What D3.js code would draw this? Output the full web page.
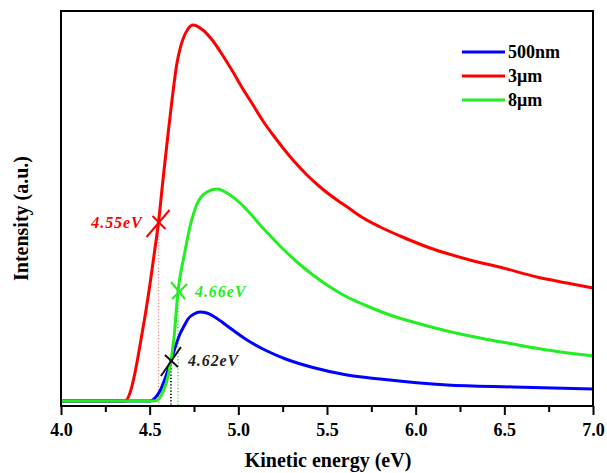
<!DOCTYPE html>
<html>
<head>
<meta charset="utf-8">
<script src="https://cdn.jsdelivr.net/npm/d3@7"></script>
<style>
  html, body { margin: 0; padding: 0; background: #fff; }
  svg text { font-family: "Liberation Serif", "Times New Roman", serif; font-weight: bold; }
</style>
</head>
<body>
<svg id="chart" width="607" height="473"></svg>
<script>
// Photoelectron spectra: kinetic energy (eV) vs. intensity (a.u.)
const energy500nm = [4.00, 4.502, 4.530, 4.558, 4.586, 4.62, 4.648, 4.671, 4.694, 4.716, 4.75, 4.784, 4.823, 4.857, 4.908, 4.953, 5.049, 5.162, 5.274, 5.421, 5.613, 5.80, 6.177, 6.549, 7.00];
const intensity500nm = [5, 5, 8, 15, 27, 45, 61, 72, 80, 87, 92, 94, 93, 90, 84, 78, 66, 55, 46.5, 38.5, 31, 27, 21, 19, 17];

const energy3um = [4.00, 4.361, 4.389, 4.417, 4.445, 4.474, 4.502, 4.524, 4.55, 4.575, 4.603, 4.626, 4.654, 4.671, 4.688, 4.716, 4.744, 4.80, 4.857, 4.914, 4.97, 5.026, 5.083, 5.139, 5.196, 5.252, 5.308, 5.387, 5.461, 5.556, 5.63, 5.686, 5.80, 5.912, 6.081, 6.306, 6.493, 6.684, 6.853, 7.00];
const intensity3um = [5, 5, 13, 33, 60, 90, 122, 150, 184, 226, 271, 306, 343, 357, 367, 377, 381, 376, 365, 350, 334, 317, 301, 285, 271, 258, 246, 231, 219, 206, 197, 190, 179, 170, 158, 146, 138, 129, 123, 118];

const energy8um = [4.00, 4.53, 4.575, 4.609, 4.637, 4.66, 4.694, 4.727, 4.767, 4.823, 4.88, 4.953, 5.01, 5.049, 5.139, 5.235, 5.331, 5.421, 5.517, 5.613, 5.726, 5.855, 5.985, 6.177, 6.363, 6.549, 6.741, 7.00];
const intensity8um = [5, 5, 14, 34, 68, 115, 150, 179, 202, 214, 217, 211, 203, 196, 178, 160, 144, 131, 119, 109, 100, 91, 84, 75, 68, 62, 56, 50];

const seriesNames = ["500nm", "3\u03bcm", "8\u03bcm"];
const seriesColors = ["#0000ff", "#ff0000", "#22ee22"];

// Onset (work function) markers
const onsetLabels = ["4.55eV", "4.66eV", "4.62eV"];
const onsetEnergy = [4.55, 4.66, 4.62];
const onsetIntensity = [184, 115, 45];
const onsetColors = ["#ff0000", "#22ee22", "#111111"];

const xTicks = [4.0, 4.5, 5.0, 5.5, 6.0, 6.5, 7.0];
const xMinorTicks = [4.25, 4.75, 5.25, 5.75, 6.25, 6.75];

const svg = d3.select("#chart");
const margin = { left: 61, right: 14, top: 11, bottom: 67 };
const W = 607, H = 473;

const x = d3.scaleLinear().domain([4.0, 7.0]).range([margin.left, W - margin.right]);
const y = d3.scaleLinear().domain([0, 395]).range([H - margin.bottom, margin.top]);

const line = d3.line()
  .x(d => x(d[0]))
  .y(d => y(d[1]))
  .curve(d3.curveMonotoneX);

const zip = (a, b) => a.map((v, i) => [v, b[i]]);

// dotted drop lines from each onset marker to the axis
const dropColors = ["#e88080", "#44cc44", "#111111"];
onsetEnergy.forEach((e, i) => {
  svg.append("line")
    .attr("x1", x(e)).attr("x2", x(e))
    .attr("y1", y(onsetIntensity[i]) + 4).attr("y2", y(0))
    .attr("stroke", dropColors[i])
    .attr("stroke-width", i === 2 ? 1.8 : 1.2)
    .attr("stroke-dasharray", "1.2,2");
});

// curves: red, blue, then green on top
const curves = [
  { e: energy3um, v: intensity3um, c: seriesColors[1] },
  { e: energy500nm, v: intensity500nm, c: seriesColors[0] },
  { e: energy8um, v: intensity8um, c: seriesColors[2] }
];
curves.forEach(s => {
  svg.append("path")
    .datum(zip(s.e, s.v))
    .attr("fill", "none")
    .attr("stroke", s.c)
    .attr("stroke-width", 3)
    .attr("stroke-linejoin", "round")
    .attr("d", line);
});

// cross markers at onsets
const crossShapes = [
  [[-12, 15, 11, -12], [-6, -6, 7, 7]],
  [[-7, -9, 7, 8], [-6, 8, 9, -7]],
  [[-10, 15, 10, -14], [-6, -6, 7, 6]]
];
onsetEnergy.forEach((e, i) => {
  const cx = x(e), cy = y(onsetIntensity[i]);
  crossShapes[i].forEach(s => {
    svg.append("line")
      .attr("x1", cx + s[0]).attr("y1", cy + s[1])
      .attr("x2", cx + s[2]).attr("y2", cy + s[3])
      .attr("stroke", onsetColors[i])
      .attr("stroke-width", 2);
  });
});

// onset labels
const labelPos = [
  { dx: -16, dy: 6, anchor: "end" },
  { dx: 17, dy: 6, anchor: "start" },
  { dx: 17, dy: 5, anchor: "start" }
];
onsetLabels.forEach((t, i) => {
  svg.append("text")
    .attr("x", x(onsetEnergy[i]) + labelPos[i].dx)
    .attr("y", y(onsetIntensity[i]) + labelPos[i].dy)
    .attr("text-anchor", labelPos[i].anchor)
    .attr("font-size", 16)
    .attr("font-style", "italic")
    .attr("letter-spacing", 0.9)
    .attr("fill", onsetColors[i] === "#111111" ? "#222" : onsetColors[i])
    .text(t);
});

// frame
svg.append("rect")
  .attr("x", margin.left).attr("y", margin.top)
  .attr("width", W - margin.left - margin.right)
  .attr("height", H - margin.top - margin.bottom)
  .attr("fill", "none")
  .attr("stroke", "#000")
  .attr("stroke-width", 2);

// bottom axis
const xAxis = svg.append("g")
  .attr("transform", `translate(0,${y(0)})`)
  .call(d3.axisBottom(x).tickValues(xTicks).tickFormat(d3.format(".1f")).tickSize(9).tickPadding(8));
xAxis.select(".domain").remove();
xAxis.selectAll(".tick line").attr("stroke", "#000").attr("stroke-width", 2);
xAxis.selectAll(".tick text")
  .attr("font-size", 18)
  .attr("fill", "#000")
  .style("font-family", "Liberation Serif, serif")
  .style("font-weight", "bold");

const xMinor = svg.append("g")
  .attr("transform", `translate(0,${y(0)})`)
  .call(d3.axisBottom(x).tickValues(xMinorTicks).tickSize(6).tickFormat(""));
xMinor.select(".domain").remove();
xMinor.selectAll(".tick line").attr("stroke", "#000").attr("stroke-width", 2);

// axis titles
svg.append("text")
  .attr("x", (margin.left + W - margin.right) / 2 + 1)
  .attr("y", 467)
  .attr("text-anchor", "middle")
  .attr("font-size", 20)
  .text("Kinetic energy (eV)");

svg.append("text")
  .attr("transform", `translate(28,${(margin.top + H - margin.bottom) / 2 + 10}) rotate(-90)`)
  .attr("text-anchor", "middle")
  .attr("font-size", 20)
  .text("Intensity (a.u.)");

// legend
const legendY = [52, 76, 100];
seriesNames.forEach((n, i) => {
  svg.append("line")
    .attr("x1", 462).attr("x2", 505)
    .attr("y1", legendY[i]).attr("y2", legendY[i])
    .attr("stroke", seriesColors[i])
    .attr("stroke-width", 3);
  svg.append("text")
    .attr("x", 508)
    .attr("y", legendY[i] + 6)
    .attr("font-size", 18)
    .attr("fill", "#000")
    .text(n);
});
</script>
</body>
</html>
